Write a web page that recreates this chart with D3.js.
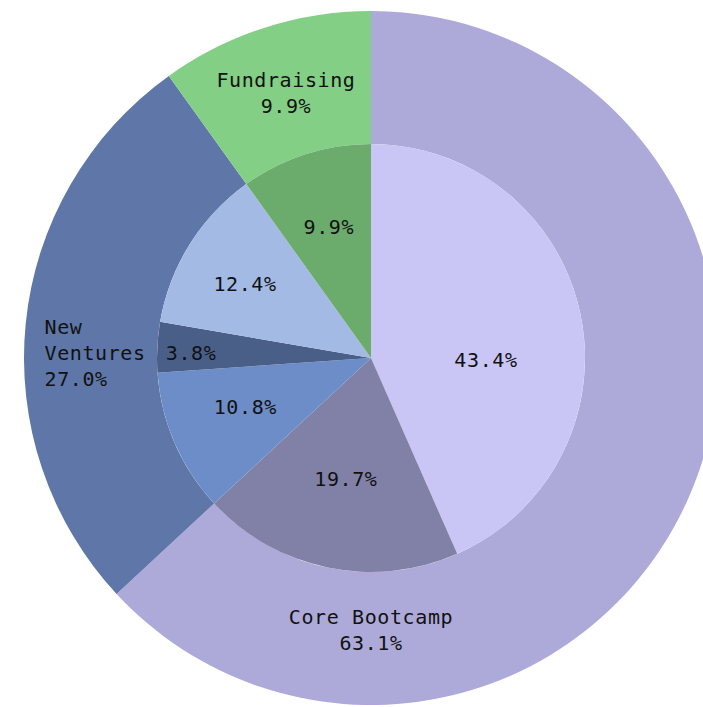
<!DOCTYPE html>
<html>
<head>
<meta charset="utf-8">
<script src="https://cdn.jsdelivr.net/npm/d3@7"></script>
<style>
  html, body { margin: 0; padding: 0; background: #ffffff; overflow: hidden; }
  svg { display: block; }
  text { font-family: "DejaVu Sans Mono", monospace; font-size: 20px; fill: #111; letter-spacing: 0.6px; }
</style>
</head>
<body>
<div id="chart"></div>
<script>
// ---- data ----
const outerCategories = ["Core Bootcamp", "New Ventures", "Fundraising"];
const outerValues = [63.1, 27.0, 9.9];
const outerColors = ["#adaad9", "#5e77a8", "#83cf86"];

const innerParents = ["Core Bootcamp", "Core Bootcamp", "New Ventures", "New Ventures", "New Ventures", "Fundraising"];
const innerValues = [43.4, 19.7, 10.8, 3.8, 12.4, 9.9];
const innerColors = ["#c9c6f5", "#8180a6", "#6c8dc8", "#4a5f88", "#a3bae5", "#6bab6c"];

// ---- layout ----
const W = 703, H = 707;
const cx = 371, cy = 358;
const rOuter = 347, rInner = 214;

const svg = d3.select("#chart").append("svg").attr("width", W).attr("height", H);
const g = svg.append("g").attr("transform", `translate(${cx},${cy})`);

const pie = d3.pie().sort(null).value(d => d);
const outerArcs = pie(outerValues);
const innerArcs = pie(innerValues);

const outerArc = d3.arc().innerRadius(rInner).outerRadius(rOuter);
const innerArc = d3.arc().innerRadius(0).outerRadius(rInner);

g.selectAll("path.outer").data(outerArcs).join("path")
  .attr("class", "outer").attr("d", outerArc)
  .attr("fill", (d, i) => outerColors[i]);

g.selectAll("path.inner").data(innerArcs).join("path")
  .attr("class", "inner").attr("d", innerArc)
  .attr("fill", (d, i) => innerColors[i]);

const fmt = v => d3.format(".1f")(v) + "%";
const lineH = 26;

function polar(angle, r) {
  return [Math.sin(angle) * r, -Math.cos(angle) * r];
}

// outer labels
outerArcs.forEach((a, i) => {
  let ang = (a.startAngle + a.endAngle) / 2;
  let r = 278;
  if (i === 0) { ang = Math.PI; r = 272; } // largest slice label placed at bottom (visible area)
  if (i === 1) { ang = 1.5 * Math.PI + 0.018; r = 276; }
  const [x, y] = polar(ang, r);
  let lines = outerCategories[i].split(" ");
  if (i !== 1) lines = [outerCategories[i]];
  lines.push(fmt(outerValues[i]));
  const n = lines.length;
  const t = g.append("text")
    .attr("text-anchor", i === 1 ? "start" : "middle");
  const charW = 20 * 0.602 + 0.6;
  const maxLen = d3.max(lines, l => l.length) * charW;
  const x0 = i === 1 ? x - maxLen / 2 : x;
  lines.forEach((l, k) => {
    t.append("tspan").attr("x", x0)
      .attr("y", y + (k - (n - 1) / 2) * lineH)
      .attr("dy", "0.35em").text(l);
  });
});

// inner labels
innerArcs.forEach((a, i) => {
  let ang = (a.startAngle + a.endAngle) / 2;
  const span = a.endAngle - a.startAngle;
  let r = span < 0.3 ? 180 : 138;
  if (span > 2.5) { ang = Math.PI / 2 + 0.017; r = 115; }
  if (i === 1) r = 124;
  if (i === 2) { r = 135; ang += 0.035; }
  if (i === 3) ang -= 0.02;
  if (i === 4) { r = 146; ang -= 0.03; }
  const [x, y] = polar(ang, r);
  g.append("text").attr("text-anchor", "middle")
    .attr("x", x).attr("y", y).attr("dy", "0.35em")
    .text(fmt(innerValues[i]));
});
</script>
</body>
</html>
